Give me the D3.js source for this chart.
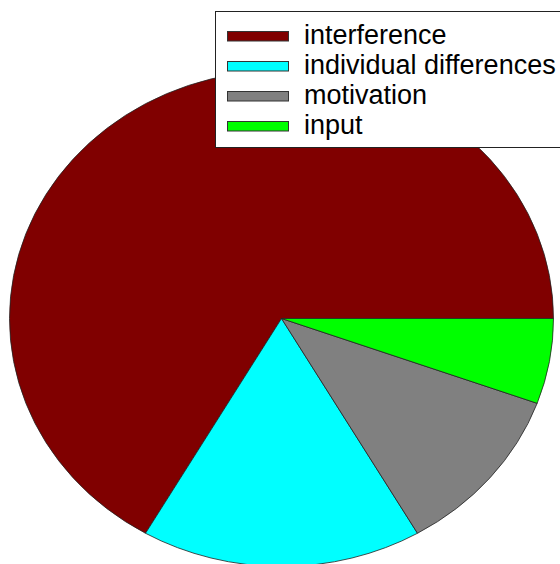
<!DOCTYPE html>
<html>
<head>
<meta charset="utf-8">
<script src="https://cdn.jsdelivr.net/npm/d3@7/dist/d3.min.js"></script>
<style>
  html, body { margin: 0; padding: 0; background: #fff; }
  svg { display: block; }
  text { font-family: "Liberation Sans", Arial, sans-serif; }
</style>
</head>
<body>
<svg id="chart" width="560" height="564"></svg>
<script>
// Causes and their relative weights, in drawing order
const categories = ["interference", "individual differences", "motivation", "input"];
const values = [12, 3, 2, 1];
const colors = ["#800000", "#00ffff", "#808080", "#00ff00"];

const width = 560, height = 564;
const svg = d3.select("#chart");

// The pie is stretched into an ellipse
const cx = 281.5, cy = 318.5, rx = 272, ry = 248;

// Slices start at 3 o'clock and run counter-clockwise
const pie = d3.pie()
  .sort(null)
  .value(d => d)
  .startAngle(Math.PI / 2)
  .endAngle(Math.PI / 2 - 2 * Math.PI);

const arc = d3.arc().innerRadius(0).outerRadius(1);

const color = d3.scaleOrdinal().domain(categories).range(colors);

const arcs = pie(values).map((a, i) => Object.assign(a, { name: categories[i] }));

svg.append("g")
  .attr("transform", `translate(${cx},${cy}) scale(${rx},${ry})`)
  .selectAll("path")
  .data(arcs)
  .join("path")
  .attr("d", arc)
  .attr("fill", d => color(d.name))
  .attr("stroke", "#222")
  .attr("stroke-width", 0.8)
  .attr("vector-effect", "non-scaling-stroke");

// Legend box
const legend = svg.append("g");
legend.append("rect")
  .attr("x", 215.5).attr("y", 11.5)
  .attr("width", 400).attr("height", 136)
  .attr("fill", "#fff")
  .attr("stroke", "#222")
  .attr("stroke-width", 1);

const rowY = d3.scalePoint().domain(categories).range([36, 126]);

const rows = legend.selectAll("g.row")
  .data(categories)
  .join("g")
  .attr("class", "row")
  .attr("transform", d => `translate(0,${rowY(d)})`);

rows.append("rect")
  .attr("x", 227.5).attr("y", -4.5)
  .attr("width", 61).attr("height", 9.5)
  .attr("fill", d => color(d))
  .attr("stroke", "#333")
  .attr("stroke-width", 1);

rows.append("text")
  .attr("x", 304)
  .attr("y", 8)
  .attr("font-size", 27)
  .attr("fill", "#000")
  .text(d => d);
</script>
</body>
</html>
